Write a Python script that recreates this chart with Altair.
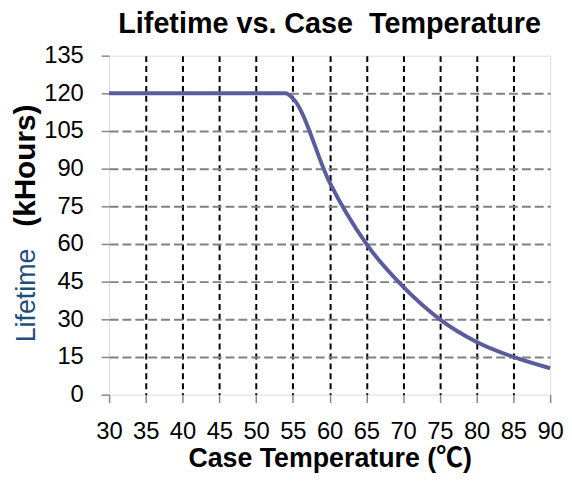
import altair as alt
import pandas as pd

# ---- data ----
temps = [30, 35, 40, 45, 50, 54, 55, 60, 65, 70, 75, 80, 85, 90]
lifetime = [120, 120, 120, 120, 120, 120, 118, 84.5, 60, 43, 30, 21, 15, 10.5]
x_ticks = [30, 35, 40, 45, 50, 55, 60, 65, 70, 75, 80, 85, 90]
y_ticks = [0, 15, 30, 45, 60, 75, 90, 105, 120, 135]
title_text = "Lifetime vs. Case\u00a0 Temperature"
x_title = "Case Temperature (℃)"
y_title_parts = ["Lifetime", "(kHours)"]

FONT = "Liberation Sans, Arial, Noto Sans CJK SC"
FRAME = "#868686"

df = pd.DataFrame({"temp": temps, "life": lifetime})

line = alt.Chart(df).mark_line(
    color="#5A5C9E", strokeWidth=4, interpolate="monotone"
).encode(
    x=alt.X(
        "temp:Q",
        scale=alt.Scale(domain=[30, 90], nice=False, zero=False),
        axis=alt.Axis(
            values=x_ticks, title=x_title, format="d",
            labelFont=FONT, labelFontSize=24, labelColor="black", labelPadding=17,
            labelFlush=False, labelOverlap=False,
            tickSize=8, tickColor=FRAME, tickWidth=1.5, domain=False,
            grid=True,
            gridColor={"condition": {"test": "datum.value == 30 || datum.value == 90", "value": "transparent"}, "value": "black"},
            gridDash=[6, 4], gridWidth=2,
            titleFont=FONT, titleFontSize=27, titleFontWeight="bold", titleColor="black",
            titlePadding=3,
        ),
    ),
    y=alt.Y(
        "life:Q",
        scale=alt.Scale(domain=[0, 135], nice=False),
        axis=alt.Axis(
            values=y_ticks, title=None, format="d",
            labelFont=FONT, labelFontSize=24, labelColor="black", labelPadding=18,
            labelFlush=False, labelOverlap=False,
            tickSize=8, tickColor=FRAME, tickWidth=1.5, domain=False,
            grid=True,
            gridColor={"condition": {"test": "datum.value == 0 || datum.value == 135", "value": "transparent"}, "value": "#808080"},
            gridDash=[9, 4], gridWidth=2,
        ),
    ),
)

yt1 = alt.Chart(pd.DataFrame({"t": [y_title_parts[0]]})).mark_text(
    angle=270, align="center", baseline="alphabetic", font=FONT, fontSize=27,
    color="#1F4E79",
).encode(text="t:N", x=alt.value(-75), y=alt.value(242))

yt2 = alt.Chart(pd.DataFrame({"t": [y_title_parts[1]]})).mark_text(
    angle=270, align="center", baseline="alphabetic", font=FONT, fontSize=30,
    fontWeight="bold", color="black",
).encode(text="t:N", x=alt.value(-75), y=alt.value(111))

chart = alt.layer(line, yt1, yt2).properties(
    width=445,
    height=342,
    padding={"left": 3, "top": 0, "right": 0, "bottom": 0},
    title=alt.TitleParams(
        text=title_text, font=FONT, fontSize=29, fontWeight="bold", color="black",
        anchor="middle", offset=5,
    ),
).configure_view(
    stroke=FRAME, strokeWidth=2
).configure(background="white")

chart.save("out.html", embed_options={"renderer": "svg", "actions": False})
